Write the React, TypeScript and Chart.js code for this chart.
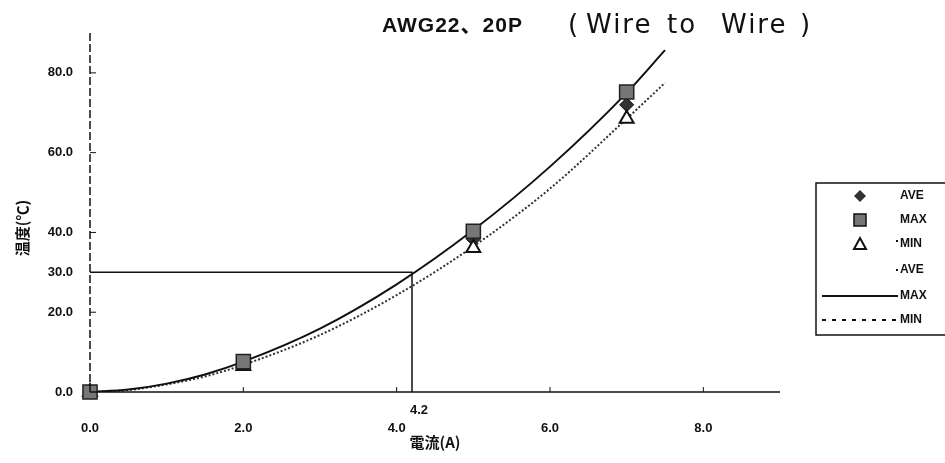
import React, { useEffect, useRef } from "react";
import { Chart, registerables } from "chart.js";

Chart.register(...registerables);

const chartTitle = "AWG22、20P";
const chartTitleNote = ["(", "Wire", "to", "Wire", ")"];
const xAxisTitle = "電流(A)";
const yAxisTitle = "温度(℃)";

const measuredCurrent = [0, 2, 5, 7];
const aveTemp = [0, 7.2, 38.3, 72.0];
const maxTemp = [0, 7.6, 40.3, 75.2];
const minTemp = [0, 6.5, 36.1, 68.5];

const trendCurrent = [0, 0.5, 1, 1.5, 2, 3, 4, 5, 6, 7, 7.5];
const maxTrend = [0, 0.6, 2.1, 4.4, 7.6, 15.9, 27.0, 40.6, 56.5, 75.0, 85.7];
const minTrend = [0, 0.5, 1.9, 3.9, 6.8, 14.3, 24.3, 36.5, 51.0, 68.5, 77.5];

const xTickValues = [0, 2, 4, 6, 8];
const yTickValues = [0, 20, 30, 40, 60, 80];
const xMax = 9;
const yMax = 90;
const markCurrent = 4.2;
const markTemp = 30;
const legendLabels = ["AVE", "MAX", "MIN", "AVE", "MAX", "MIN"];

const pts = (xs: number[], ys: number[]) => xs.map((x, i) => ({ x, y: ys[i] }));

const noteX = [568, 586, 667, 721, 800];

const decorPlugin = {
  id: "decor",
  afterDraw(chart: any) {
    const { ctx, chartArea: a, scales } = chart;
    const xs = scales.x;
    const ys = scales.y;
    const line = (x1: number, y1: number, x2: number, y2: number) => {
      ctx.beginPath();
      ctx.moveTo(x1, y1);
      ctx.lineTo(x2, y2);
      ctx.stroke();
    };
    ctx.save();
    ctx.strokeStyle = "#111";
    ctx.lineWidth = 1.5;
    ctx.setLineDash([8, 3]);
    line(a.left, a.top, a.left, a.bottom);
    ctx.setLineDash([]);
    line(a.left, a.bottom, a.right, a.bottom);
    ctx.lineWidth = 1;
    for (const v of yTickValues) {
      if (v === 0 || v === markTemp) continue;
      const y = ys.getPixelForValue(v);
      line(a.left, y, a.left + 6, y);
    }
    for (const v of xTickValues) {
      if (v === 0) continue;
      const x = xs.getPixelForValue(v);
      line(x, a.bottom, x, a.bottom - 5);
    }

    ctx.fillStyle = "#111";
    // annotation label
    ctx.font = "bold 13px 'Liberation Sans', Arial, sans-serif";
    ctx.textAlign = "left";
    ctx.textBaseline = "middle";
    ctx.fillText(String(markCurrent), xs.getPixelForValue(markCurrent) - 2, a.bottom + 18);

    // y axis title
    ctx.save();
    ctx.translate(22, 228);
    ctx.rotate(-Math.PI / 2);
    ctx.textAlign = "center";
    ctx.font = "bold 15px 'Noto Sans CJK JP', sans-serif";
    ctx.fillText(yAxisTitle, 0, 0);
    ctx.restore();

    // chart title
    ctx.textAlign = "left";
    ctx.textBaseline = "alphabetic";
    ctx.font = "bold 21px 'Liberation Sans', 'Noto Sans CJK JP', sans-serif";
    (ctx as any).letterSpacing = "1px";
    ctx.fillText(chartTitle, 382, 32);
    ctx.font = "26px 'DejaVu Sans', sans-serif";
    (ctx as any).letterSpacing = "2px";
    chartTitleNote.forEach((t, i) => ctx.fillText(t, noteX[i], 33));
    (ctx as any).letterSpacing = "0px";

    // legend
    const bx = 816;
    const rows = [196, 220, 244, 270, 296, 320];
    ctx.lineWidth = 1.5;
    ctx.strokeStyle = "#111";
    ctx.setLineDash([]);
    ctx.strokeRect(bx, 183, 200, 152);
    const mx = 860;
    // diamond
    ctx.fillStyle = "#333";
    ctx.beginPath();
    ctx.moveTo(mx, rows[0] - 6);
    ctx.lineTo(mx + 6, rows[0]);
    ctx.lineTo(mx, rows[0] + 6);
    ctx.lineTo(mx - 6, rows[0]);
    ctx.closePath();
    ctx.fill();
    // square
    ctx.fillStyle = "#777";
    ctx.fillRect(mx - 6, rows[1] - 6, 12, 12);
    ctx.strokeRect(mx - 6, rows[1] - 6, 12, 12);
    // triangle
    ctx.fillStyle = "#fff";
    ctx.lineWidth = 2;
    ctx.beginPath();
    ctx.moveTo(mx, rows[2] - 6);
    ctx.lineTo(mx + 6, rows[2] + 5);
    ctx.lineTo(mx - 6, rows[2] + 5);
    ctx.closePath();
    ctx.fill();
    ctx.stroke();
    // ave line dot
    ctx.fillStyle = "#111";
    ctx.fillRect(896, rows[3] - 1, 2, 2);
    ctx.fillRect(896, rows[2] - 4, 2, 2);
    // max line
    ctx.lineWidth = 2;
    line(822, rows[4], 898, rows[4]);
    // min dashed
    ctx.setLineDash([4, 6]);
    line(822, rows[5], 898, rows[5]);
    ctx.setLineDash([]);
    ctx.font = "bold 12px 'Liberation Sans', Arial, sans-serif";
    ctx.textAlign = "left";
    ctx.textBaseline = "middle";
    legendLabels.forEach((t, i) => ctx.fillText(t, 900, rows[i]));
    ctx.restore();
  },
};

export default function App() {
  const ref = useRef<HTMLCanvasElement | null>(null);
  useEffect(() => {
    document.body.style.margin = "0";
    const canvas = ref.current;
    if (!canvas) return;
    const chart = new Chart(canvas, {
      type: "scatter",
      data: {
        datasets: [
          {
            label: "MAX trend",
            type: "line",
            data: pts(trendCurrent, maxTrend),
            borderColor: "#111",
            borderWidth: 2,
            pointRadius: 0,
            cubicInterpolationMode: "monotone",
            fill: false,
            order: 5,
          } as any,
          {
            label: "MIN trend",
            type: "line",
            data: pts(trendCurrent, minTrend),
            borderColor: "#333",
            borderWidth: 2,
            borderDash: [2, 2],
            pointRadius: 0,
            cubicInterpolationMode: "monotone",
            fill: false,
            order: 6,
          } as any,
          {
            label: "guide",
            type: "line",
            data: [
              { x: 0, y: markTemp },
              { x: markCurrent, y: markTemp },
              { x: markCurrent, y: 0 },
            ],
            borderColor: "#111",
            borderWidth: 1.5,
            pointRadius: 0,
            tension: 0,
            fill: false,
            order: 7,
          } as any,
          {
            label: "AVE",
            data: pts(measuredCurrent, aveTemp),
            pointStyle: "rectRot",
            pointRadius: 7,
            backgroundColor: "#333",
            borderColor: "#111",
            borderWidth: 1,
            clip: false,
            order: 3,
          } as any,
          {
            label: "MIN",
            data: pts(measuredCurrent, minTemp),
            pointStyle: "triangle",
            pointRadius: 8,
            backgroundColor: "#fff",
            borderColor: "#111",
            borderWidth: 2,
            clip: false,
            order: 2,
          } as any,
          {
            label: "MAX",
            data: pts(measuredCurrent, maxTemp),
            pointStyle: "rect",
            pointRadius: 10,
            backgroundColor: "#777",
            borderColor: "#222",
            borderWidth: 1.5,
            clip: false,
            order: 1,
          } as any,
        ],
      },
      options: {
        animation: false,
        responsive: false,
        maintainAspectRatio: false,
        layout: { padding: { top: 33, right: 165, left: 0, bottom: 0 } },
        plugins: {
          legend: { display: false },
          tooltip: { enabled: false },
          title: { display: false },
        },
        scales: {
          x: {
            type: "linear",
            min: 0,
            max: xMax,
            grid: { display: false },
            border: { display: false },
            afterBuildTicks: (s: any) => {
              s.ticks = xTickValues.map((v) => ({ value: v }));
            },
            afterFit: (s: any) => {
              s.height = 71;
            },
            ticks: {
              padding: 21,
              color: "#111",
              font: { size: 13, weight: "bold", family: "'Liberation Sans', Arial, sans-serif" },
              callback: (v: any) => Number(v).toFixed(1),
            },
            title: {
              display: true,
              text: xAxisTitle,
              color: "#111",
              padding: { top: 0, bottom: 12 },
              font: { size: 15, weight: "bold", family: "'Noto Sans CJK JP', sans-serif" },
            },
          },
          y: {
            type: "linear",
            min: 0,
            max: yMax,
            grid: { display: false },
            border: { display: false },
            afterBuildTicks: (s: any) => {
              s.ticks = yTickValues.map((v) => ({ value: v }));
            },
            afterFit: (s: any) => {
              s.width = 90;
            },
            ticks: {
              padding: 9,
              color: "#111",
              font: { size: 13, weight: "bold", family: "'Liberation Sans', Arial, sans-serif" },
              callback: (v: any) => Number(v).toFixed(1),
            },
          },
        },
      },
      plugins: [decorPlugin],
    });
    return () => chart.destroy();
  }, []);
  return (
    <div style={{ width: 945, height: 463, background: "#fff" }}>
      <canvas ref={ref} width={945} height={463} />
    </div>
  );
}
